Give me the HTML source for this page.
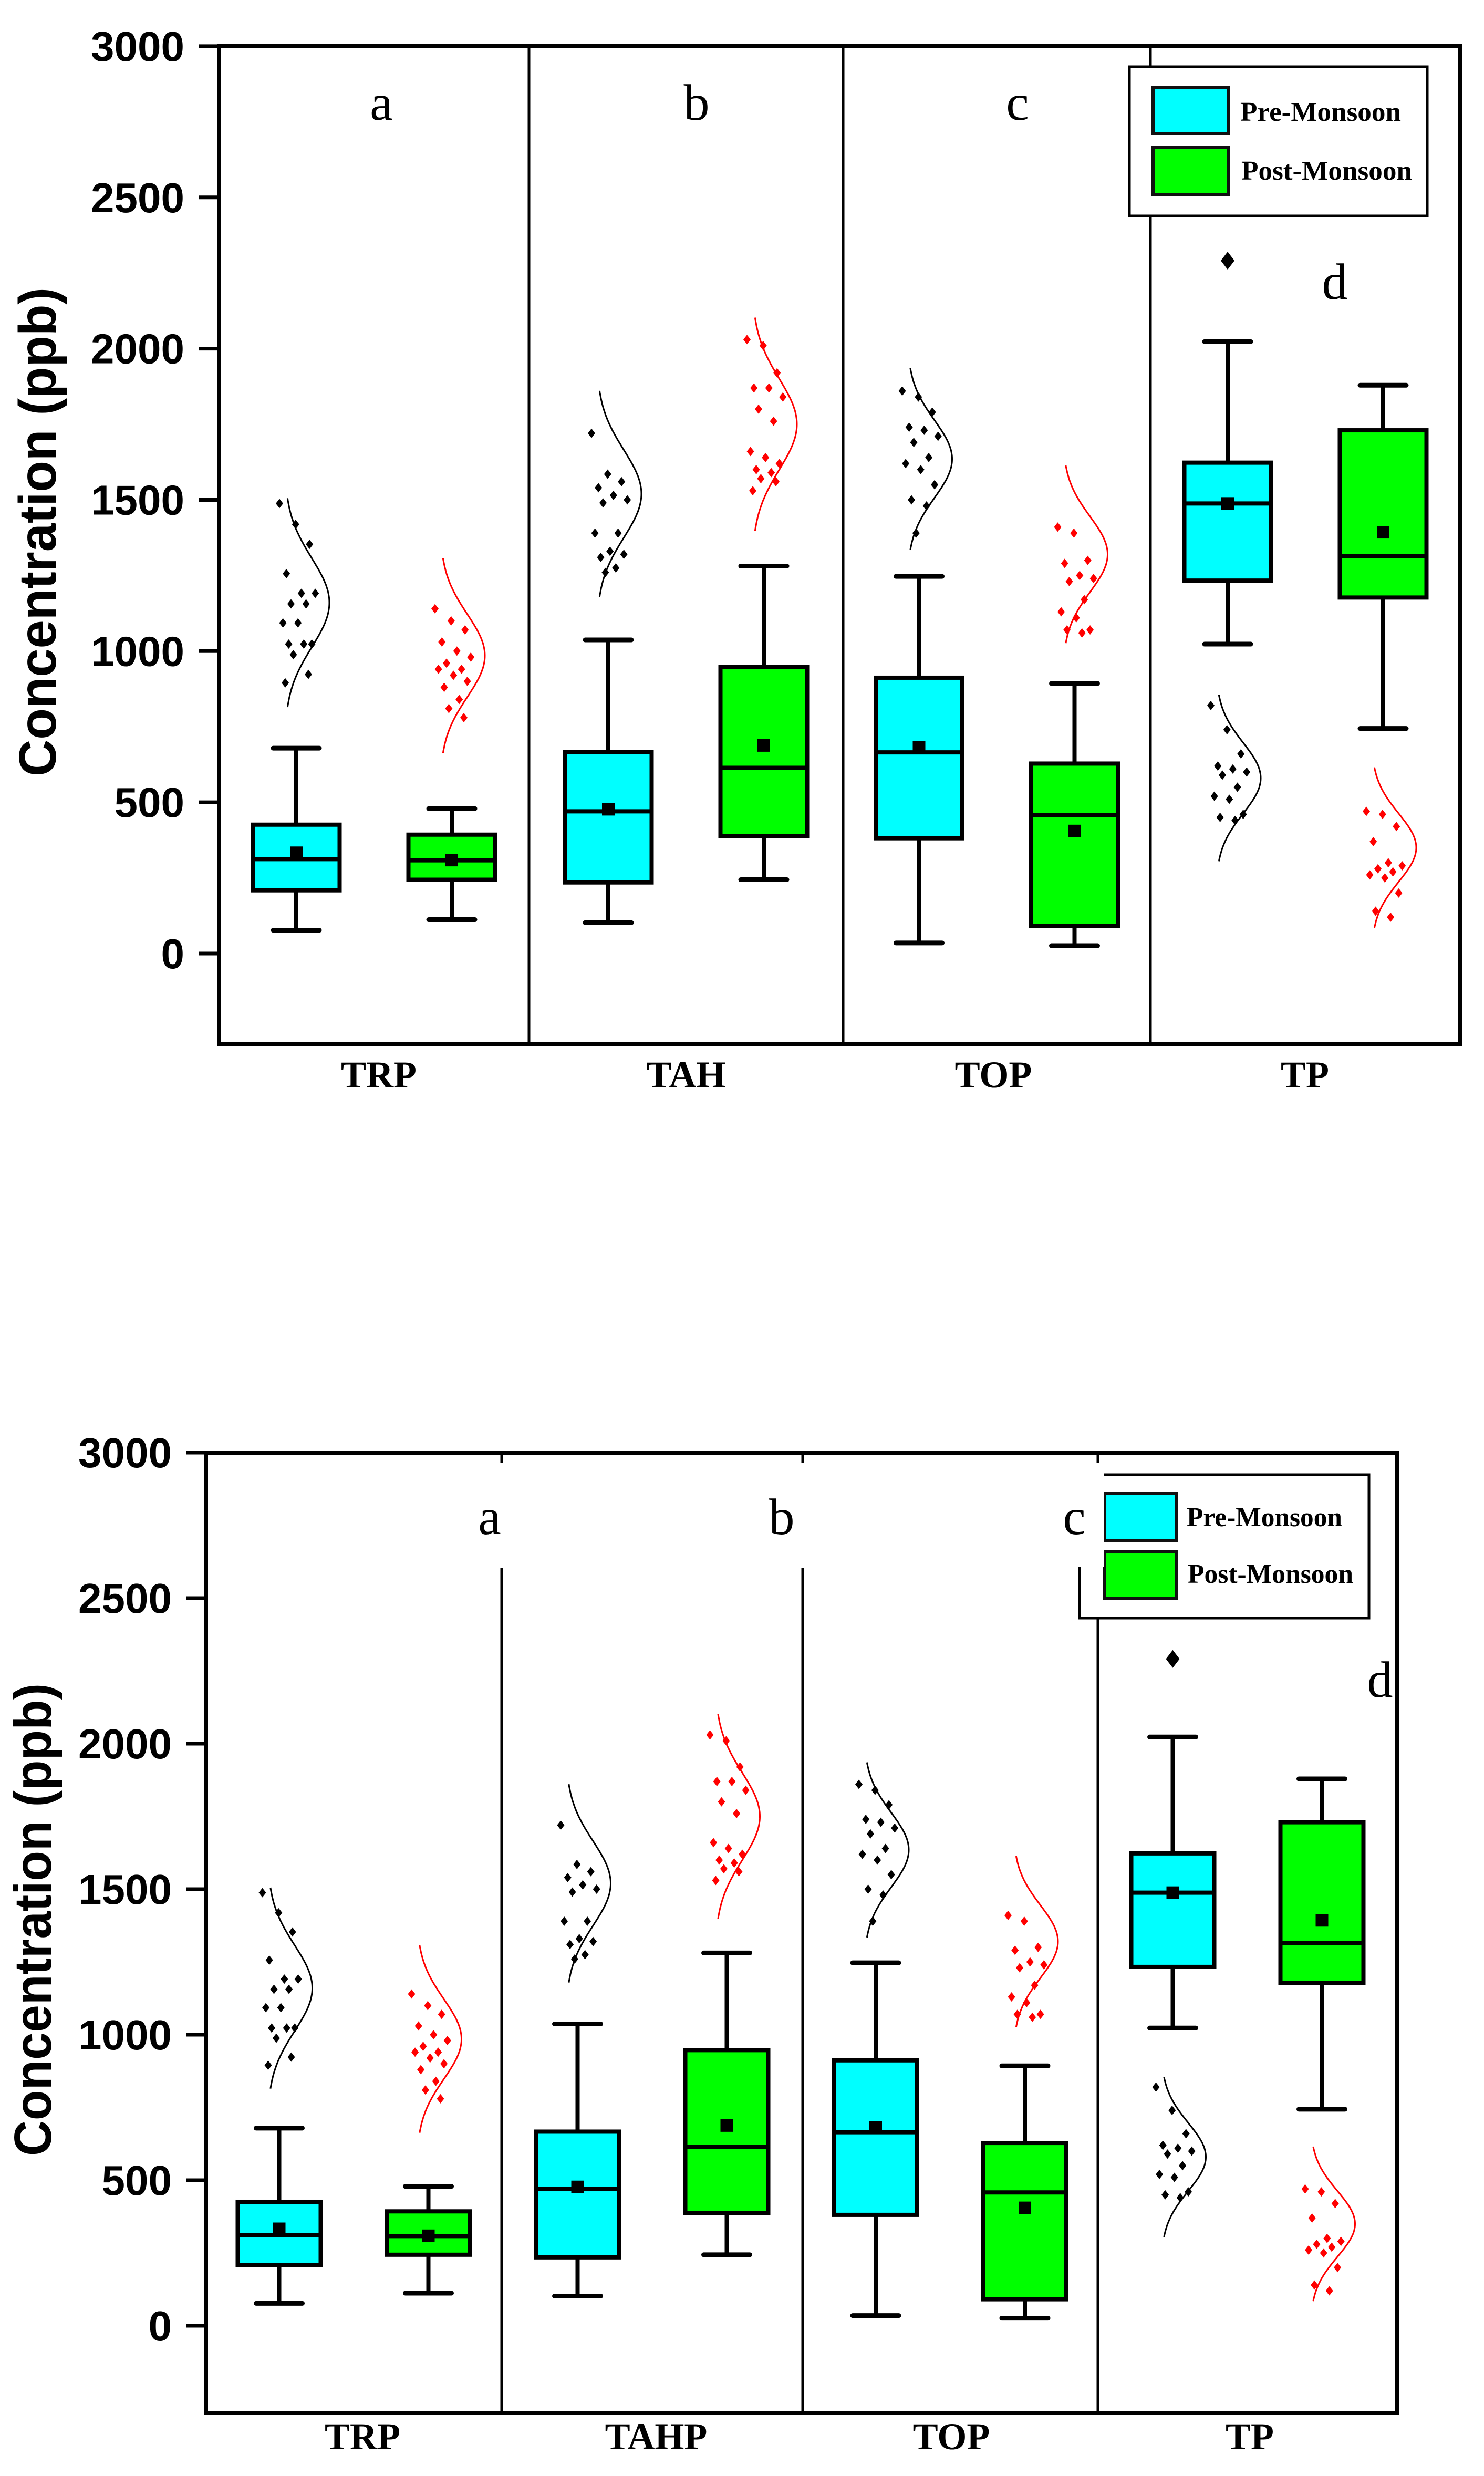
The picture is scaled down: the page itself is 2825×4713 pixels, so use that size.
<!DOCTYPE html>
<html><head><meta charset="utf-8"><style>html,body{margin:0;padding:0;background:#fff}svg{display:block}</style></head>
<body>
<svg id="fig" xmlns="http://www.w3.org/2000/svg" width="2825" height="4713" viewBox="0 0 2825 4713"></svg>
<script>
// ---- data ----
const catsTop = ["TRP","TAH","TOP","TP"];
const catsBottom = ["TRP","TAHP","TOP","TP"];
const panelLetters = ["a","b","c","d"];
const yTicks = [0,500,1000,1500,2000,2500,3000];
const seriesNames = ["Pre-Monsoon","Post-Monsoon"];
const preMin  = [77, 102, 35, 1023];
const preQ1   = [209, 235, 381, 1233];
const preMed  = [312, 470, 665, 1488];
const preQ3   = [426, 667, 912, 1623];
const preMax  = [679, 1037, 1247, 2023];
const preMean = [333, 477, 681, 1488];
const postMin  = [112, 244, 26, 744];
const postQ1   = [244, 388, 91, 1177];
const postMed  = [308, 614, 458, 1314];
const postQ3   = [393, 947, 628, 1730];
const postMax  = [479, 1281, 893, 1879];
const postMean = [309, 688, 405, 1393];
const preOutliers = [[], [], [], [2291]];
const postOutliers = [[], [], [], []];
const preDots = [
  [1488,1419,1353,1256,1191,1191,1156,1156,1093,1093,1023,1023,1023,988,923,895],
  [1720,1585,1560,1540,1515,1500,1490,1390,1390,1330,1320,1310,1275,1260],
  [1860,1840,1790,1740,1730,1710,1690,1640,1620,1600,1550,1500,1480,1390],
  [820,740,660,620,610,600,590,550,520,510,460,450,440]
];
const postDots = [
  [1140,1100,1070,1030,1000,980,960,940,940,920,900,880,840,810,780],
  [2030,2010,1920,1870,1870,1840,1800,1760,1660,1640,1620,1600,1590,1570,1560,1530],
  [1410,1390,1300,1290,1250,1240,1230,1170,1130,1110,1070,1070,1060],
  [470,460,420,370,300,290,280,270,260,250,200,140,120]
];
const preCurveMean = [1160, 1520, 1635, 580];
const preCurveSD   = [147, 145, 128, 117];
const postCurveMean = [985, 1750, 1320, 350];
const postCurveSD   = [137, 150, 125, 113];

// ---- layout configs (pixel geometry only) ----
const topCfg = {id:"top", cats:catsTop, left:417, right:2780, top:88, bottom:1987, y0:1815, ppu:0.5757,
  dividers:[1007,1605,2190], offset:148, boxW:165, tickLabelRight:351, tickLen:39,
  titleX:72, titleLen:931, catBase:2070,
  letters:[[726,228],[1326,228],[1937,228],[2541,569]], legend:{x:2150,y:127,w:567,h:284,sx:2195,sw:144,s1:[167,254],s2:[281,371],tx:2361,b1:230,b2:342,l1:306,l2:325},
  catX:[721,1306,1891,2484], splitTop:false};
const botCfg = {id:"bottom", cats:catsBottom, left:392, right:2659, top:2765, bottom:4593, y0:4427, ppu:0.554,
  dividers:[955,1528,2090], offset:142, boxW:158, tickLabelRight:327, tickLen:37,
  titleX:63, titleLen:900, catBase:4662,
  letters:[[932,2920],[1488,2920],[2045,2920],[2627,3230]], legend:{x:2055,y:2807,w:551,h:273,sx:2102,sw:137,s1:[2843,2932],s2:[2953,3043],tx:2259,b1:2905,b2:3013,l1:296,l2:315},
  catX:[690,1249,1811,2379], splitTop:true};

const NS = "http://www.w3.org/2000/svg";
const svg = document.getElementById("fig");
function mk(tag, attrs, parent){
  const e = document.createElementNS(NS, tag);
  for (const k in attrs) e.setAttribute(k, attrs[k]);
  (parent||svg).appendChild(e);
  return e;
}
const jitter = [0,28,52,12,38,62,20,46,6,32,56,16,42,24,50,10];

function drawChart(c){
  const g = mk("g", {});
  
  
  const y = v => c.y0 - v * c.ppu;
  const panelCenter = i => {
    const edges = [c.left].concat(c.dividers).concat([c.right]);
    return (edges[i] + edges[i+1]) / 2;
  };
  const xBand = (i, s) => panelCenter(i) + (s === 0 ? -c.offset : c.offset);

  const frame = mk("rect", {x:c.left, y:c.top, width:c.right-c.left, height:c.bottom-c.top, fill:"none", stroke:"#000", "stroke-width":8}, g);
  
  
  c.dividers.forEach((dx, i) => {
    const dl = mk("line", {x1:dx, x2:dx, y1:c.splitTop ? c.top+220 : c.top, y2:c.bottom, stroke:"#000", "stroke-width":5}, g);
    
    
    if (c.splitTop) mk("line", {x1:dx, x2:dx, y1:c.top, y2:c.top+20, stroke:"#000", "stroke-width":5}, g);
  });
  yTicks.forEach(t => {
    const yy = y(t);
    const tl = mk("line", {x1:c.left-c.tickLen, x2:c.left, y1:yy, y2:yy, stroke:"#000", "stroke-width":7}, g);
    
    
    const tx = mk("text", {x:c.tickLabelRight, y:yy+28, "text-anchor":"end", "font-family":"Liberation Sans, sans-serif", "font-weight":"bold", "font-size":80}, g);
    tx.textContent = t;
    
    
  });
  const midY = (c.top + c.bottom) / 2 - 25;
  const yt = mk("text", {x:0, y:0, transform:`translate(${c.titleX+34},${midY}) rotate(-90)`, "text-anchor":"middle", "font-family":"Liberation Sans, sans-serif", "font-weight":"bold", "font-size":100, textLength:c.titleLen, lengthAdjust:"spacingAndGlyphs"}, g);
  yt.textContent = "Concentration (ppb)";
  
  
  c.cats.forEach((name, i) => {
    const t = mk("text", {x:c.catX[i], y:c.catBase, "text-anchor":"middle", "font-family":"Liberation Serif, serif", "font-weight":"bold", "font-size":72}, g);
    t.textContent = name;
    
    
  });

  const series = [
    {mn:preMin,q1:preQ1,md:preMed,q3:preQ3,mx:preMax,me:preMean,out:preOutliers,dots:preDots,cm:preCurveMean,cs:preCurveSD,fill:"#00FFFF",dot:"#000",name:"pre"},
    {mn:postMin,q1:postQ1,md:postMed,q3:postQ3,mx:postMax,me:postMean,out:postOutliers,dots:postDots,cm:postCurveMean,cs:postCurveSD,fill:"#00FF00",dot:"#FF0000",name:"post"}
  ];
  series.forEach((s, si) => {
    c.cats.forEach((cat, i) => {
      const cx = xBand(i, si);
      const hw = c.boxW / 2, cap = 44;
      const bg = mk("g", {}, g);
      
      
      mk("line", {x1:cx, x2:cx, y1:y(s.mn[i]), y2:y(s.q1[i]), stroke:"#000", "stroke-width":8}, bg);
      mk("line", {x1:cx, x2:cx, y1:y(s.q3[i]), y2:y(s.mx[i]), stroke:"#000", "stroke-width":8}, bg);
      mk("line", {x1:cx-cap, x2:cx+cap, y1:y(s.mn[i]), y2:y(s.mn[i]), stroke:"#000", "stroke-width":9, "stroke-linecap":"round"}, bg);
      mk("line", {x1:cx-cap, x2:cx+cap, y1:y(s.mx[i]), y2:y(s.mx[i]), stroke:"#000", "stroke-width":9, "stroke-linecap":"round"}, bg);
      mk("rect", {x:cx-hw, y:y(s.q3[i]), width:c.boxW, height:y(s.q1[i])-y(s.q3[i]), fill:s.fill, stroke:"#000", "stroke-width":8}, bg);
      mk("line", {x1:cx-hw, x2:cx+hw, y1:y(s.md[i]), y2:y(s.md[i]), stroke:"#000", "stroke-width":8}, bg);
      mk("rect", {x:cx-12, y:y(s.me[i])-12, width:24, height:24, fill:"#000"}, bg);
      s.out[i].forEach(v => {
        const o = mk("path", {d:`M${cx} ${y(v)-17} L${cx+13} ${y(v)} L${cx} ${y(v)+17} L${cx-13} ${y(v)} Z`, fill:"#000"}, g);
        
        
      });
      const dg = mk("g", {}, g);
      
      
      s.dots[i].forEach((v, k) => {
        const dx = cx - 32 + jitter[k % jitter.length] * 1.1;
        const dy = y(v);
        mk("path", {d:`M${dx} ${dy-9} L${dx+7} ${dy} L${dx} ${dy+9} L${dx-7} ${dy} Z`, fill:s.dot}, dg);
      });
      let d = "";
      for (let z = -2.35; z <= 2.351; z += 0.05) {
        const v = s.cm[i] + z * s.cs[i];
        const px = cx - 22 + 85 * Math.exp(-z*z/2);
        d += (d ? " L" : "M") + px.toFixed(1) + " " + y(v).toFixed(1);
      }
      const cv = mk("path", {d:d, fill:"none", stroke:s.dot, "stroke-width":3}, g);
      
      
    });
  });

  const L = c.legend;
  const lg = mk("g", {}, g);
  
  
  mk("rect", {x:L.x, y:L.y, width:L.w, height:L.h, fill:"#fff", stroke:"#000", "stroke-width":5}, lg);
  const sw1 = mk("rect", {x:L.sx, y:L.s1[0], width:L.sw, height:L.s1[1]-L.s1[0], fill:"#00FFFF", stroke:"#111", "stroke-width":6}, lg);
  
  
  const sw2 = mk("rect", {x:L.sx, y:L.s2[0], width:L.sw, height:L.s2[1]-L.s2[0], fill:"#00FF00", stroke:"#111", "stroke-width":6}, lg);
  
  
  const t1 = mk("text", {x:L.tx, y:L.b1, "font-family":"Liberation Serif, serif", "font-weight":"bold", "font-size":52, textLength:L.l1, lengthAdjust:"spacingAndGlyphs"}, lg);
  t1.textContent = seriesNames[0];
  
  
  const t2 = mk("text", {x:L.tx+2, y:L.b2, "font-family":"Liberation Serif, serif", "font-weight":"bold", "font-size":52, textLength:L.l2, lengthAdjust:"spacingAndGlyphs"}, lg);
  t2.textContent = seriesNames[1];
  
  

  c.letters.forEach((p, i) => {
    if (c.splitTop && i < 3) {
      const dx = c.dividers[i];
      mk("rect", {x:p[0]-40, y:c.top+20, width:(i===2 ? L.sx-1 : dx+12) - (p[0]-40), height:198, fill:"#fff"}, g);
    }
    const t = mk("text", {x:p[0], y:p[1], "text-anchor":"middle", "font-family":"Liberation Serif, serif", "font-size":98}, g);
    t.textContent = panelLetters[i];
    
    
  });
}
drawChart(topCfg);
drawChart(botCfg);
</script>
</body></html>
